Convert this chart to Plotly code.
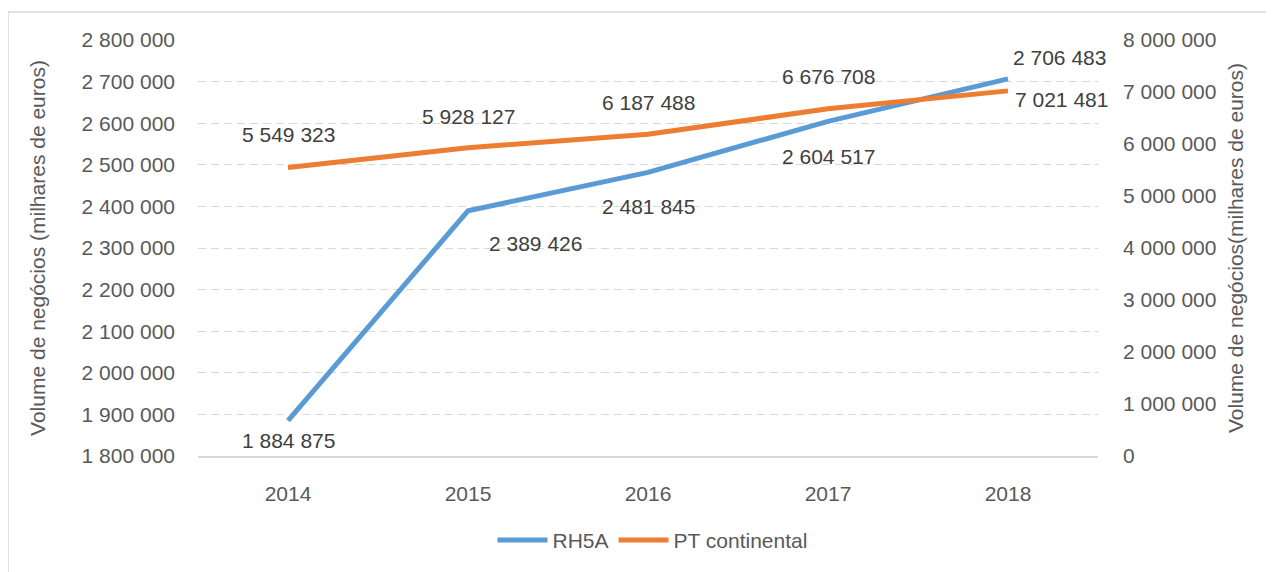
import plotly.graph_objects as go

years = ["2014", "2015", "2016", "2017", "2018"]
rh5a = [1884875, 2389426, 2481845, 2604517, 2706483]
pt_continental = [5549323, 5928127, 6187488, 6676708, 7021481]
left_ticks = [1800000 + 100000 * i for i in range(11)]
right_ticks = [1000000 * i for i in range(9)]

BLUE = "#5B9BD5"
ORANGE = "#ED7D31"
FONT = "Liberation Sans"
TICKC = "#595959"
LABC = "#404040"
FS = 21

def fmt(v):
    return f"{v:,}".replace(",", " ")

fig = go.Figure()
fig.add_trace(go.Scatter(x=years, y=rh5a, name="RH5A", mode="lines",
                         line=dict(color=BLUE, width=5), yaxis="y"))
fig.add_trace(go.Scatter(x=years, y=pt_continental, name="PT continental", mode="lines",
                         line=dict(color=ORANGE, width=5), yaxis="y2"))

# label offsets (style only)
rh_shift = [(0, -20), (67, -33), (0, -34), (0, -35), (51, 21)]
pt_shift = [(0, 33), (0, 31), (0, 32), (0, 32), (53, -9)]
anns = []
for i, (v, (dx, dy)) in enumerate(zip(rh5a, rh_shift)):
    anns.append(dict(x=i, y=v, xref="x", yref="y", text=fmt(v), showarrow=False,
                     xshift=dx, yshift=dy, font=dict(family=FONT, size=FS, color=LABC)))
for i, (v, (dx, dy)) in enumerate(zip(pt_continental, pt_shift)):
    anns.append(dict(x=i, y=v, xref="x", yref="y2", text=fmt(v), showarrow=False,
                     xshift=dx, yshift=dy, font=dict(family=FONT, size=FS, color=LABC)))

W, H = 1266, 564
L, T = 190, 32
PW, PH = 900, 417

fig.update_layout(
    width=W, height=H,
    margin=dict(l=L, r=W - L - PW, t=T, b=H - T - PH),
    paper_bgcolor="white", plot_bgcolor="white",
    separators=", ",
    font=dict(family=FONT, size=FS, color=TICKC),
    showlegend=True,
    legend=dict(orientation="h", x=0.505, xanchor="center", y=-0.2, yanchor="middle",
                font=dict(family=FONT, size=FS, color=TICKC), itemwidth=50,
                bgcolor="rgba(0,0,0,0)"),
    xaxis=dict(type="category", range=[-0.5, 4.5], showgrid=False, showline=True,
               linecolor="#D9D9D9", linewidth=1.5, ticks="", ticklabelstandoff=18,
               tickfont=dict(family=FONT, size=FS, color=TICKC), zeroline=False),
    yaxis=dict(range=[1800000, 2800000], tickvals=left_ticks, tickformat=",d",
               showgrid=True, gridcolor="#D9D9D9", gridwidth=1.3, griddash="8px,5px",
               showline=False, zeroline=False, ticks="", ticklabelstandoff=22,
               tickfont=dict(family=FONT, size=FS, color=TICKC),
               title=dict(text="Volume de negócios (milhares de euros)", standoff=30,
                          font=dict(family=FONT, size=FS, color=TICKC))),
    yaxis2=dict(range=[0, 8000000], tickvals=right_ticks, tickformat=",d",
                overlaying="y", side="right", showgrid=False, showline=False,
                zeroline=False, ticks="", ticklabelstandoff=24,
                tickfont=dict(family=FONT, size=FS, color=TICKC),
                title=dict(text="Volume de negócios(milhares de euros)", standoff=12,
                           font=dict(family=FONT, size=FS, color=TICKC))),
    annotations=anns,
    shapes=[dict(type="rect", xref="paper", yref="paper",
                 x0=(0 - L) / PW, x1=(W + 20 - L) / PW,
                 y0=(T + PH - (H + 20)) / PH, y1=(T + PH - 4) / PH,
                 line=dict(color="#D9D9D9", width=1.5), fillcolor="rgba(0,0,0,0)",
                 layer="below")],
)

fig.write_html("out.html")
